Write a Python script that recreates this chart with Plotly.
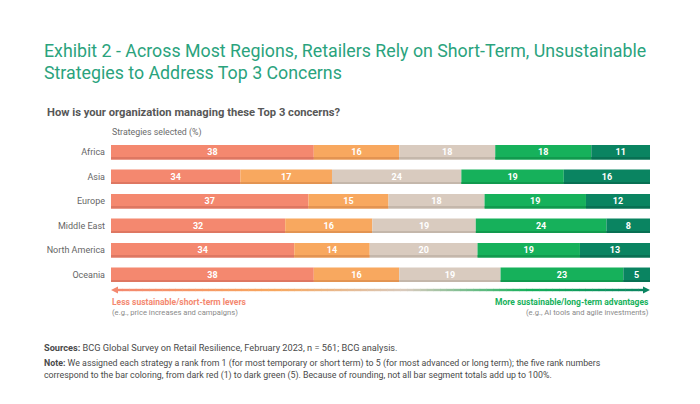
import plotly.graph_objects as go
import numpy as np

# regions, top to bottom
regions = ["Africa", "Asia", "Europe", "Middle East", "North America", "Oceania"]

# share of strategies selected (%) per rank, 1 = short term ... 5 = long term
rank1 = [38, 34, 37, 32, 34, 38]
rank2 = [16, 17, 15, 16, 14, 16]
rank3 = [18, 24, 18, 19, 20, 19]
rank4 = [18, 19, 19, 24, 19, 23]
rank5 = [11, 16, 12, 8, 13, 5]

# the original draws the Asia rank-1 segment at 24 although it is labelled 34
rank1_drawn = [38, 24, 37, 32, 34, 38]

colors = ["#F4886F", "#F8A85F", "#D9CBBF", "#16B15B", "#0A8461"]
shadow = ["#DE7762", "#E39452", "#C4B7AB", "#119A4E", "#087053"]

FONT = "Roboto"
# page body has an 8px margin, so work in reference pixels and shift
OFF = 8
W, H = 700 - 2 * OFF, 404 - 2 * OFF
L, R, T, B = 111 - OFF, 700 - 650 - OFF, 140 - OFF, 404 - 287 - OFF

def px(x):
    return (x - OFF - L) / (W - L - R)

def py(y):
    return (H - B - (y - OFF)) / (H - T - B)

labels = np.array([rank1, rank2, rank3, rank4, rank5], dtype=float)
drawn = np.array([rank1_drawn, rank2, rank3, rank4, rank5], dtype=float)
shares = drawn / drawn.sum(axis=0) * 100
bases = np.vstack([np.zeros(len(regions)), np.cumsum(shares, axis=0)[:-1]])

fig = go.Figure()
bw = 0.59
sw = 0.08
for i in range(5):
    fig.add_trace(go.Bar(
        y=regions, x=shares[i], base=bases[i], orientation="h",
        width=bw, marker=dict(color=colors[i], line=dict(width=0)),
        text=[f"<b>{int(v)}</b>" for v in labels[i]],
        textposition="inside", insidetextanchor="middle", textangle=0,
        insidetextfont=dict(family=FONT, size=9, color="white"),
        showlegend=False, hoverinfo="skip",
    ))
for i in range(5):
    fig.add_trace(go.Bar(
        y=regions, x=shares[i], base=bases[i], orientation="h",
        width=sw, offset=bw / 2 - sw,
        marker=dict(color=shadow[i], line=dict(width=0)),
        showlegend=False, hoverinfo="skip",
    ))

# gradient arrow under the bars
stops = [0, 0.3, 0.55, 0.78, 1]
def hex2rgb(h):
    return np.array([int(h[k:k + 2], 16) for k in (1, 3, 5)], dtype=float)
stop_rgb = [hex2rgb(c) for c in colors]
shapes = []
n = 80
ay = 290
x0p, x1p = 116, 645
for k in range(n):
    t = (k + 0.5) / n
    rgb = [np.interp(t, stops, [c[j] for c in stop_rgb]) for j in range(3)]
    col = "rgb(%d,%d,%d)" % tuple(int(v) for v in rgb)
    xa = x0p + (x1p - x0p) * k / n
    xb = x0p + (x1p - x0p) * (k + 1) / n + 0.5
    shapes.append(dict(type="rect", xref="paper", yref="paper",
                       x0=px(xa), x1=px(xb), y0=py(ay + 1.2), y1=py(ay - 1.2),
                       fillcolor=col, line=dict(width=0), layer="above"))
shapes.append(dict(type="path", xref="paper", yref="paper",
                   path=f"M {px(111)} {py(ay)} L {px(118)} {py(ay - 3.5)} L {px(118)} {py(ay + 3.5)} Z",
                   fillcolor=colors[0], line=dict(width=0)))
shapes.append(dict(type="path", xref="paper", yref="paper",
                   path=f"M {px(650)} {py(ay)} L {px(643)} {py(ay - 3.5)} L {px(643)} {py(ay + 3.5)} Z",
                   fillcolor=colors[4], line=dict(width=0)))

def note(text, x, y, size, color, anchor="left"):
    return dict(text=text, xref="paper", yref="paper", x=px(x), y=py(y),
                xanchor=anchor, yanchor="middle", showarrow=False,
                font=dict(family=FONT, size=size, color=color), align=anchor)

annotations = [
    note("Exhibit 2 - Across Most Regions, Retailers Rely on Short-Term, Unsustainable", 42, 50, 17.8, "#2AA37D"),
    note("Strategies to Address Top 3 Concerns", 42, 72.5, 17.8, "#2AA37D"),
    note("<b>How is your organization managing these Top 3 concerns?</b>", 45, 112, 11.2, "#575757"),
    note("Strategies selected (%)", 110, 132.5, 8.8, "#6b6b6b"),
    note("<b>Less sustainable/short-term levers</b>", 110, 302, 8.5, "#F4886F"),
    note("(e.g., price increases and campaigns)", 110, 312, 7.6, "#8a8a8a"),
    note("<b>More sustainable/long-term advantages</b>", 651, 302, 8.5, "#16B15B", "right"),
    note("(e.g., AI tools and agile investments)", 651, 312, 7.6, "#8a8a8a", "right"),
    note("<b>Sources:</b> BCG Global Survey on Retail Resilience, February 2023, n = 561; BCG analysis.",
         42, 347, 9.2, "#4a4a4a"),
    note("<b>Note:</b> We assigned each strategy a rank from 1 (for most temporary or short term) to 5 "
         "(for most advanced or long term); the five rank numbers", 42, 363, 8.8, "#4a4a4a"),
    note("correspond to the bar coloring, from dark red (1) to dark green (5). Because of rounding, "
         "not all bar segment totals add up to 100%.", 42, 375, 8.8, "#4a4a4a"),
]

fig.update_layout(
    width=W, height=H,
    margin=dict(l=L, r=R, t=T, b=B),
    barmode="overlay",
    plot_bgcolor="white", paper_bgcolor="white",
    xaxis=dict(range=[0, 100], visible=False, fixedrange=True),
    yaxis=dict(categoryorder="array", categoryarray=regions, autorange="reversed",
               showgrid=False, zeroline=False, showline=False, ticks="",
               ticklabelstandoff=5, automargin=False,
               tickfont=dict(family=FONT, size=9, color="#666666")),
    shapes=shapes,
    annotations=annotations,
    uniformtext=dict(mode="show", minsize=9),
)

fig.write_html("out.html")
